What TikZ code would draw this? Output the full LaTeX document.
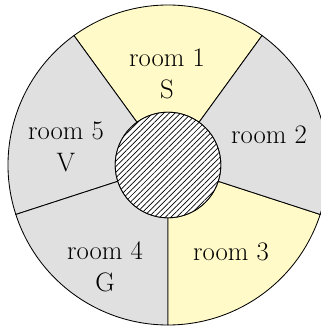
\documentclass[tikz,border=0pt]{standalone}
\usetikzlibrary{patterns.meta}
\definecolor{roomyellow}{RGB}{255,250,200}
\definecolor{roomgray}{RGB}{224,224,224}
\begin{document}
\begin{tikzpicture}
\tikzset{
  sector/.style={draw=black, line width=0.6pt},
  roomlabel/.style={align=center, font=\fontsize{19}{23}\selectfont, inner sep=0pt},
}
\useasboundingbox (-4.2,-4.05) rectangle (3.8,4.125);
\def\R{4}
\def\r{1.32}
\filldraw[sector, fill=roomyellow] (54:\r) -- (54:\R) arc[start angle=54, end angle=126, radius=\R] -- (126:\r) arc[start angle=126, end angle=54, radius=\r] -- cycle;
\filldraw[sector, fill=roomgray] (126:\r) -- (126:\R) arc[start angle=126, end angle=198, radius=\R] -- (198:\r) arc[start angle=198, end angle=126, radius=\r] -- cycle;
\filldraw[sector, fill=roomgray] (198:\r) -- (198:\R) arc[start angle=198, end angle=270, radius=\R] -- (270:\r) arc[start angle=270, end angle=198, radius=\r] -- cycle;
\filldraw[sector, fill=roomyellow] (270:\r) -- (270:\R) arc[start angle=270, end angle=342, radius=\R] -- (342:\r) arc[start angle=342, end angle=270, radius=\r] -- cycle;
\filldraw[sector, fill=roomgray] (342:\r) -- (342:\R) arc[start angle=342, end angle=414, radius=\R] -- (54:\r) arc[start angle=54, end angle=-18, radius=\r] -- cycle;
\fill[white] (0,0) circle[radius=\r];
\fill[pattern={Lines[angle=45, distance=2.8pt, line width=0.5pt]}] (0,0) circle[radius=\r];
\draw[line width=0.6pt] (0,0) circle[radius=\r];
\node[roomlabel] (r1) at (-0.025,2.275) {room 1\\S};
\node[roomlabel] (r2) at (2.525,0.75) {room 2};
\node[roomlabel] (r3) at (1.575,-2.175) {room 3};
\node[roomlabel] (r4) at (-1.575,-2.55) {room 4\\G};
\node[roomlabel] (r5) at (-2.55,0.45) {room 5\\V};
\end{tikzpicture}
\end{document}
